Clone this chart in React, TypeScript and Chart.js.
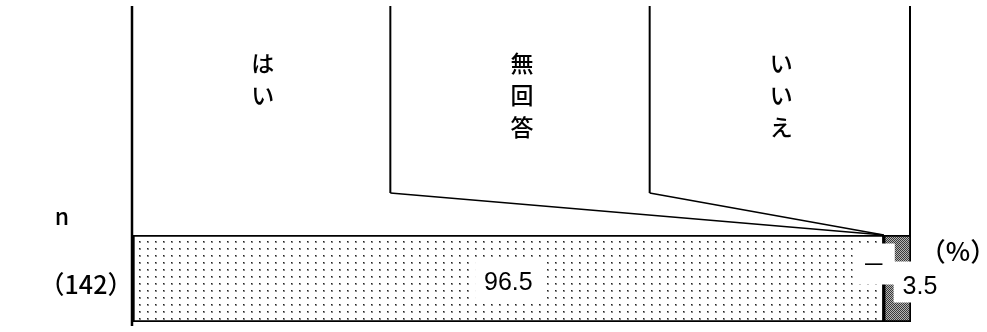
import React, { useEffect, useRef } from "react";
import { Chart, registerables } from "chart.js";

Chart.register(...registerables);

const categories = ["はい", "無回答", "いいえ"];
const values = [96.5, 0, 3.5];
const valueLabels = ["96.5", "－", "3.5"];
const rowLabels = ["（142）"];
const nHeader = "n";
const unitLabel = "（%）";

const JP = '"Noto Sans CJK JP", "Noto Sans", sans-serif';
const NUM = '"Liberation Sans", Arial, sans-serif';

function dotPattern(): CanvasPattern | string {
  const c = document.createElement("canvas");
  c.width = 8;
  c.height = 7;
  const g = c.getContext("2d");
  if (!g) return "#eee";
  g.fillStyle = "#ffffff";
  g.fillRect(0, 0, 8, 7);
  g.fillStyle = "#8a8a8a";
  g.fillRect(3, 3, 2, 2);
  g.fillStyle = "#222";
  g.fillRect(3, 3, 1, 1);
  return g.createPattern(c, "repeat") || "#eee";
}

function checkPattern(): CanvasPattern | string {
  const c = document.createElement("canvas");
  c.width = 2;
  c.height = 2;
  const g = c.getContext("2d");
  if (!g) return "#777";
  g.fillStyle = "#b5b5b5";
  g.fillRect(0, 0, 2, 2);
  g.fillStyle = "#3a3a3a";
  g.fillRect(0, 0, 1, 1);
  g.fillRect(1, 1, 1, 1);
  return g.createPattern(c, "repeat") || "#777";
}

const overlay = {
  id: "overlay",
  afterDatasetsDraw(chart: any) {
    const { ctx, chartArea, scales } = chart;
    const { left, right, top, bottom } = chartArea;
    const x = scales.x;
    const n = categories.length;
    const W = right - left;
    ctx.save();
    ctx.strokeStyle = "#000";
    ctx.lineCap = "butt";

    // left axis line
    ctx.lineWidth = 2.5;
    ctx.beginPath();
    ctx.moveTo(left - 1, 6);
    ctx.lineTo(left - 1, bottom + 4);
    ctx.stroke();

    // leader lines
    let cum = 0;
    const kneeY = 193;
    for (let i = 0; i < n; i++) {
      cum += values[i];
      const bx = left + ((i + 1) * W) / n - (i < n - 1 ? 2 : 0);
      const px = x.getPixelForValue(cum);
      ctx.lineWidth = 2;
      ctx.beginPath();
      if (i < n - 1) {
        ctx.moveTo(bx, 6);
        ctx.lineTo(bx, kneeY);
        ctx.stroke();
        ctx.lineWidth = 1.5;
        ctx.beginPath();
        ctx.moveTo(bx, kneeY);
        ctx.lineTo(px, top);
        ctx.stroke();
      } else {
        ctx.moveTo(right - 1, 6);
        ctx.lineTo(right - 1, top);
        ctx.stroke();
      }
    }

    // vertical category labels
    ctx.fillStyle = "#000";
    ctx.font = `500 23px ${JP}`;
    ctx.textAlign = "center";
    ctx.textBaseline = "middle";
    for (let i = 0; i < n; i++) {
      const cx = left + ((i + 0.5) * W) / n;
      const chars = Array.from(categories[i]);
      chars.forEach((ch, j) => {
        ctx.fillText(ch, cx, 63 + j * 32);
      });
    }

    // value labels
    let start = 0;
    let smallIdx = 0;
    for (let i = 0; i < n; i++) {
      const s = x.getPixelForValue(start);
      const e = x.getPixelForValue(start + values[i]);
      start += values[i];
      let tx: number, ty: number, by: number;
      const isNum = values[i] !== 0;
      ctx.font = isNum ? `25px ${NUM}` : `24px ${JP}`;
      if (values[i] >= 10) {
        tx = (s + e) / 2;
        ty = 281;
        by = 279;
      } else if (smallIdx++ === 0) {
        tx = e - 10;
        ty = 264;
        by = 264;
      } else {
        tx = e + 9;
        ty = 285;
        by = 282;
      }
      const tw = ctx.measureText(valueLabels[i]).width;
      const bw = tw + 18;
      const bh = 41;
      ctx.fillStyle = "#fff";
      ctx.fillRect(tx - bw / 2, by - bh / 2, bw, bh);
      ctx.fillStyle = "#000";
      ctx.fillText(valueLabels[i], tx, ty + (isNum ? 2 : 0));
    }

    // n header and sample size
    ctx.font = `500 23px ${JP}`;
    ctx.fillText(nHeader, 62, 216);
    ctx.font = `500 25px ${JP}`;
    rowLabels.forEach((r) => ctx.fillText(r, 86, 284));

    // unit
    ctx.font = `500 26px ${JP}`;
    ctx.fillText(unitLabel, 958, 251);

    ctx.restore();
  },
};

export default function App() {
  const ref = useRef<HTMLCanvasElement | null>(null);
  useEffect(() => {
    if (!ref.current) return;
    const pats = [dotPattern(), "#ffffff", checkPattern()];
    const chart = new Chart(ref.current, {
      type: "bar",
      data: {
        labels: rowLabels,
        datasets: categories.map((c, i) => ({
          label: c,
          data: [values[i]],
          backgroundColor: pats[i] as any,
          borderColor: "#000",
          borderWidth: 2,
          borderSkipped: false,
          barPercentage: 1,
          categoryPercentage: 1,
        })),
      },
      options: {
        indexAxis: "y",
        responsive: false,
        animation: false,
        devicePixelRatio: 1,
        layout: { padding: { left: 133, right: 76, top: 235, bottom: 10 } },
        plugins: { legend: { display: false }, tooltip: { enabled: false } },
        scales: {
          x: { stacked: true, min: 0, max: 100, display: false },
          y: { stacked: true, display: false },
        },
      },
      plugins: [overlay],
    });
    return () => chart.destroy();
  }, []);
  return (
    <div style={{ position: "fixed", left: 0, top: 0, width: 987, height: 332, background: "#fff" }}>
      <canvas ref={ref} width={987} height={332} />
    </div>
  );
}
